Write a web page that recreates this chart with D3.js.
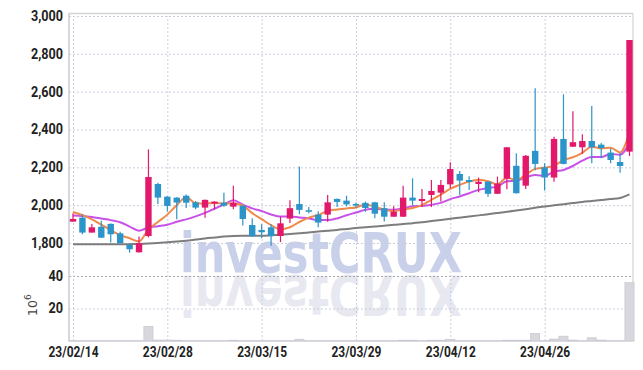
<!DOCTYPE html>
<html><head><meta charset="utf-8">
<script src="https://cdn.jsdelivr.net/npm/d3@7/dist/d3.min.js"></script>
<style>html,body{margin:0;padding:0;background:#fff;overflow:hidden}</style>
</head><body>
<svg id="c" width="643" height="370"></svg>
<script>
const dates = ["23/02/14","23/02/15","23/02/16","23/02/17","23/02/20","23/02/21","23/02/22","23/02/23","23/02/24","23/02/27",
"23/02/28","23/03/02","23/03/03","23/03/06","23/03/07","23/03/08","23/03/09","23/03/10","23/03/13","23/03/14",
"23/03/15","23/03/16","23/03/17","23/03/20","23/03/21","23/03/22","23/03/23","23/03/24","23/03/27","23/03/28",
"23/03/29","23/03/30","23/03/31","23/04/03","23/04/04","23/04/05","23/04/06","23/04/07","23/04/10","23/04/11",
"23/04/12","23/04/13","23/04/14","23/04/17","23/04/18","23/04/19","23/04/20","23/04/21","23/04/24","23/04/25",
"23/04/26","23/04/27","23/04/28","23/05/02","23/05/03","23/05/04","23/05/08","23/05/09","23/05/10","23/05/11"];
const open = [1913,1934,1855,1886,1901,1851,1790,1751,1837,2112, 2045,2040,2050,2015,1987,2008,2013,1992,1997,1895,
1869,1883,1837,1929,2006,1973,1950,1950,2033,2024, 2006,2012,2015,1984,1939,1939,2040,2022,2054,2066,
2110,2165,2133,2112,2124,2060,2140,2208,2103,2287, 2200,2146,2350,2309,2306,2339,2320,2278,2228,2283];
const high = [1957,1952,1901,1918,1903,1860,1799,1834,2295,2119, 2047,2042,2056,2022,2030,2021,2066,2102,2000,1931,
1899,1899,1940,2026,2204,1990,1968,2054,2035,2050, 2014,2020,2018,2016,1994,2102,2142,2086,2133,2133,
2227,2180,2153,2146,2128,2151,2308,2274,2265,2618, 2221,2362,2586,2496,2375,2524,2328,2300,2276,2873];
const low = [1913,1846,1855,1826,1802,1797,1749,1748,1830,2006, 1966,1925,1985,1978,1934,1978,1992,1978,1892,1833,
1825,1785,1805,1906,1952,1957,1883,1912,1990,1994, 1987,1965,1931,1914,1939,1937,1999,1990,1990,2019,
2089,2054,2080,2068,2045,2060,2084,2062,2086,2185, 2077,2124,2216,2308,2270,2222,2248,2221,2172,2260];
const close = [1927,1855,1883,1828,1846,1799,1767,1799,2149,2040, 1996,2014,2013,1987,2028,2019,1997,2013,1927,1836,
1857,1836,1904,1984,1975,1970,1908,2015,2017,2004, 1998,1985,1955,1939,1966,2040,2024,2033,2075,2107,
2191,2130,2123,2124,2060,2114,2306,2063,2261,2218, 2146,2350,2218,2333,2339,2306,2302,2239,2207,2873];
const volume = [0.1,0.1,0.1,0.1,0.1,0.1,0.1,0.1,9.0,0.6, 0.6,0.5,0.1,0.1,0.1,0.1,0.1,0.5,0.1,0.1,
0.1,0.1,0.1,0.1,1.1,0.1,0.1,0.1,0.1,0.1, 0.1,0.1,0.1,0.1,0.1,0.5,0.5,0.1,0.5,0.5,
1.1,0.1,0.1,0.1,0.1,0.1,0.5,0.5,0.5,4.7, 0.1,1.2,3.0,0.6,0.1,2.0,0.6,0.1,0.1,36];
const ma5 = [1964,1948,1925,1897,1868,1842,1825,1808,1872,1911, 1950,2000,2042,2010,2008,2012,2009,2009,1997,1958,
1926,1894,1872,1883,1911,1934,1948,1970,1977,1983, 1988,2004,1992,1976,1969,1977,1985,2000,2028,2056,
2086,2107,2125,2135,2126,2110,2145,2133,2161,2192, 2199,2208,2239,2253,2277,2309,2300,2304,2279,2385];
const ma10 = [1946,1943,1937,1929,1921,1910,1887,1865,1882,1889, 1896,1912,1925,1941,1959,1981,2004,2026,2003,1983,
1969,1951,1940,1940,1935,1930,1921,1921,1930,1947, 1961,1976,1981,1977,1976,1983,1994,1996,2002,2012,
2032,2046,2063,2081,2091,2098,2126,2129,2148,2159, 2155,2177,2186,2207,2235,2254,2254,2271,2266,2331];
const ma60 = [1793,1793,1793,1793,1793,1793,1794,1795,1797,1800, 1804,1808,1812,1818,1824,1829,1834,1837,1838,1838,
1838,1841,1844,1848,1852,1856,1861,1865,1869,1874, 1879,1883,1887,1891,1896,1900,1905,1910,1916,1922,
1928,1934,1940,1946,1952,1958,1965,1972,1979,1986, 1993,1999,2005,2011,2017,2022,2027,2032,2038,2057];
const priceTicks = [1800,2000,2200,2400,2600,2800,3000];
const volTicks = [20,40];
const xTickLabels = ["23/02/14","23/02/28","23/03/15","23/03/29","23/04/12","23/04/26"];
const watermark = "investCRUX";
const volUnitBase = "10", volUnitExp = "6";

const L = 69, R = 633, T = 16, B = 341;
const svg = d3.select("#c");
svg.append("rect").attr("width",643).attr("height",370).attr("fill","#fff");

const x = d3.scalePoint().domain(dates).range([73, 629.5]);
const y = d3.scaleLinear().domain([1800, 3000]).range([243, 16]);
const yv = d3.scaleLinear().domain([0, 40]).range([341, 276]);

// watermark
const wm = svg.append("g");
wm.append("text").attr("x",180).attr("y",272).text(watermark)
  .attr("font-family","'DejaVu Sans', sans-serif").attr("font-weight","bold").attr("font-size",55)
  .attr("textLength",282).attr("lengthAdjust","spacingAndGlyphs").attr("fill","#c9d0ea");
wm.append("text").attr("x",180).attr("y",272).text(watermark)
  .attr("transform","translate(0,548) scale(1,-1)")
  .attr("font-family","'DejaVu Sans', sans-serif").attr("font-weight","bold").attr("font-size",55)
  .attr("textLength",282).attr("lengthAdjust","spacingAndGlyphs").attr("fill","#e7e8f0");

// grid
const gridStyle = g => { g.select(".domain").remove(); g.selectAll("line").attr("stroke","#c9cedd").attr("stroke-dasharray","2,2"); g.selectAll("text").remove(); };
svg.append("g").attr("transform",`translate(${L},0)`)
  .call(d3.axisLeft(y).tickValues(priceTicks).tickSize(-(R-L)).tickFormat("")).call(gridStyle);
svg.append("g").attr("transform",`translate(${L},0)`)
  .call(d3.axisLeft(yv).tickValues(volTicks).tickSize(-(R-L)).tickFormat("")).call(gridStyle)
  .selectAll("line").filter(d => d === 40).attr("stroke","#a3a3a8");
svg.append("g").attr("transform",`translate(0,${B})`)
  .call(d3.axisBottom(x).tickValues(xTickLabels).tickSize(-(B-T)).tickFormat("")).call(gridStyle);

// borders
svg.append("line").attr("x1",L).attr("x2",R).attr("y1",13.5).attr("y2",13.5).attr("stroke","#d3d3d8").attr("stroke-width",1.5);
svg.append("line").attr("x1",R).attr("x2",R).attr("y1",13.5).attr("y2",B).attr("stroke","#d3d3d8").attr("stroke-width",1.2);
svg.append("line").attr("x1",L).attr("x2",L).attr("y1",13.5).attr("y2",B).attr("stroke","#c8c8d0").attr("stroke-width",1.5);
svg.append("line").attr("x1",L).attr("x2",R).attr("y1",B).attr("y2",B).attr("stroke","#c8c8d0").attr("stroke-width",1.2);

// volume bars
svg.append("g").selectAll("rect").data(dates).join("rect")
  .attr("x", d => x(d) - 4.6).attr("width", 9.2)
  .attr("y", (d,i) => yv(volume[i])).attr("height", (d,i) => yv(0) - yv(volume[i]))
  .attr("fill","#d7d7dd").attr("stroke","#c4c4cc").attr("stroke-width",0.6);

// MA lines
const line = arr => d3.line().x((d,i) => x(dates[i])).y(d => y(d)).curve(d3.curveMonotoneX)(arr);
svg.append("path").attr("d", line(ma60)).attr("fill","none").attr("stroke","#7d7d7d").attr("stroke-width",2);
svg.append("path").attr("d", line(ma10)).attr("fill","none").attr("stroke","#c851e8").attr("stroke-width",2);
svg.append("path").attr("d", line(ma5)).attr("fill","none").attr("stroke","#f08a4c").attr("stroke-width",2);

// candles
const up = "#e2196b", down = "#2b94c8";
const cg = svg.append("g").selectAll("g").data(dates).join("g");
cg.append("line").attr("x1", d => x(d)).attr("x2", d => x(d))
  .attr("y1",(d,i) => y(high[i])).attr("y2",(d,i) => y(low[i]))
  .attr("stroke",(d,i) => close[i] >= open[i] ? up : down).attr("stroke-width",1.2);
cg.append("rect").attr("x", d => x(d) - 3.2).attr("width", 6.4)
  .attr("y",(d,i) => y(Math.max(open[i],close[i])))
  .attr("height",(d,i) => Math.max(1.5, Math.abs(y(open[i]) - y(close[i]))))
  .attr("fill",(d,i) => close[i] >= open[i] ? up : down);

// axes labels
const fontF = "Roboto, 'Noto Sans', sans-serif";
const lab = g => { g.select(".domain").remove(); g.selectAll("line").remove();
  g.selectAll("text").attr("font-family",fontF).attr("font-weight",700).attr("fill","#222")
   .attr("lengthAdjust","spacingAndGlyphs"); };
const numLen = function() { const s = this.textContent; const d = s.replace(/[^0-9]/g,"").length; const c = s.length - d; return d*7.3 + c*2.8; };
svg.append("g").attr("transform",`translate(${L},0)`)
  .call(d3.axisLeft(y).tickValues(priceTicks).tickFormat(d3.format(",")).tickSize(0).tickPadding(6)).call(lab)
  .selectAll("text").attr("font-size",14).attr("textLength",numLen);
svg.append("g").attr("transform",`translate(${L},0)`)
  .call(d3.axisLeft(yv).tickValues(volTicks).tickSize(0).tickPadding(6)).call(lab)
  .selectAll("text").attr("font-size",14).attr("textLength",numLen);
svg.append("g").attr("transform",`translate(0,${B})`)
  .call(d3.axisBottom(x).tickValues(xTickLabels).tickSize(0).tickPadding(5)).call(lab)
  .selectAll("text").attr("font-size",15).attr("textLength",50);

// volume unit
const u = svg.append("text").attr("transform","translate(37,316) rotate(-90)")
  .attr("font-family","'DejaVu Sans',sans-serif").attr("font-size",12.5).attr("fill","#444");
u.append("tspan").text(volUnitBase);
u.append("tspan").text(volUnitExp).attr("font-size",9).attr("dy",-6);
</script>
</body></html>
